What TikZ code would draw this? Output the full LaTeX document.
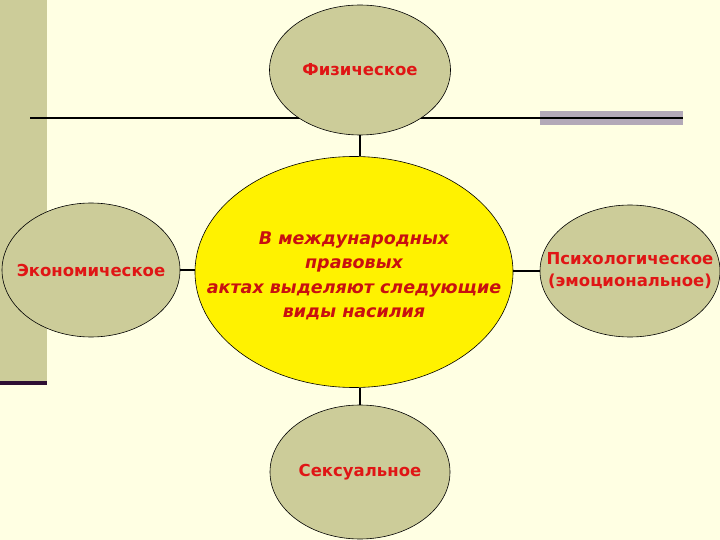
\documentclass[tikz,border=0pt]{standalone}
\usepackage{fontspec}
\setmainfont{DejaVu Sans}
\usetikzlibrary{shapes.geometric}
\definecolor{paper}{HTML}{FFFFE3}
\definecolor{khaki}{HTML}{CCCC99}
\definecolor{barline}{HTML}{B3A9B8}
\definecolor{stripend}{HTML}{2E0F33}
\definecolor{labelred}{HTML}{E01515}
\definecolor{centerred}{HTML}{C81010}
\begin{document}
\begin{tikzpicture}[x=1pt,y=-1pt,
    kind/.style={ellipse,draw,line width=0.6pt,fill=khaki,inner sep=0pt},
    hub/.style={ellipse,draw,line width=0.6pt,fill=yellow,inner sep=0pt},
    kindtext/.style={font=\bfseries\fontsize{16.5}{22}\selectfont,text=labelred,align=center},
    hubtext/.style={font=\bfseries\itshape\fontsize{17.5}{24.5}\selectfont,text=centerred,align=center},
    link/.style={line width=1.5pt}]
    \useasboundingbox (0,0) rectangle (720,540);
    \fill[paper] (0,0) rectangle (720,540);
    % left strip and top rule
    \fill[khaki] (0,0) rectangle (47,381);
    \fill[stripend] (0,381) rectangle (47,385);
    \fill[barline] (540,111) rectangle (683,125);
    \draw[link] (30,118)--(683,118);
    % the five ellipses
    \node[hub,minimum width=318,minimum height=231] (hub) at (354,272) {};
    \node[kind,minimum width=181,minimum height=130] (phys) at (360,70) {};
    \node[kind,minimum width=178,minimum height=134] (econ) at (91,270) {};
    \node[kind,minimum width=180,minimum height=132] (psych) at (630,271) {};
    \node[kind,minimum width=180,minimum height=134] (sex) at (360,472) {};
    \node[hubtext] at (354,276) {В международных\\правовых\\актах выделяют следующие\\виды насилия};
    \node[kindtext] at (phys) {Физическое};
    \node[kindtext] at (econ) {Экономическое};
    \node[kindtext] at (psych) {Психологическое\\(эмоциональное)};
    \node[kindtext] at (sex) {Сексуальное};
    \draw[link] (phys.south)--(phys.south |- hub.north);
    \draw[link] (sex.north)--(sex.north |- hub.south);
    \draw[link] (econ.east)--(econ.east -| hub.west);
    \draw[link] (psych.west)--(psych.west -| hub.east);
  \end{tikzpicture}
\end{document}
